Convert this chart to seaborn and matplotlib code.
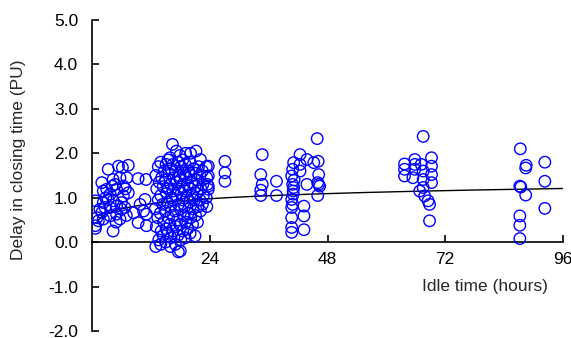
import numpy as np
import pandas as pd
import matplotlib
matplotlib.use("Agg")
import matplotlib.pyplot as plt
import seaborn as sns

# ---- data ----
# cluster A: 0-12 h
hours_a = [0.75, 0.7, 0.7, 2.0, 2.3, 3.3, 4.3, 5.4, 7.4, 5.7, 7.1, 9.4, 11.0, 3.0, 3.7,
           5.0, 6.4, 7.4, 6.0, 4.3, 2.65, 2.0, 2.3, 3.7, 5.0, 6.0, 4.3, 5.7, 6.7, 10.8,
           11.1, 11.1, 9.4, 3.3, 2.3, 4.7, 4.1, 6.4, 5.0, 3.7, 1.3, 1.6, 6.2, 10.5, 8.5,
           1.0, 2.8, 6.8, 9.8, 4.9, 7.0]
delay_a = [0.93, 0.37, 0.31, 1.34, 1.15, 1.64, 1.41, 1.71, 1.73, 1.45, 1.45, 1.43, 1.41, 1.19, 1.08,
           1.19, 1.04, 1.11, 0.89, 0.93, 0.78, 0.67, 0.52, 0.59, 0.63, 0.74, 0.25, 0.52, 0.78, 0.96,
           0.63, 0.37, 0.44, 0.96, 0.89, 1.30, 1.26, 1.26, 0.81, 0.78, 0.48, 0.74, 1.68, 0.70, 0.66,
           0.55, 1.00, 1.20, 0.85, 0.45, 0.60]

# cluster B: 13-24 h (dense)
hours_b = [13.0, 13.1, 12.9, 13.2, 13.0,
           13.6, 13.4, 13.5, 13.7, 13.5,
           14.0, 14.1, 13.9, 14.0, 14.2, 14.0,
           14.5, 14.6, 14.4, 14.5, 14.7,
           15.0, 15.1, 14.9, 15.2, 15.0, 15.1,
           15.5, 15.6, 15.4, 15.5, 15.7, 15.5,
           16.0, 16.1, 15.9, 16.0, 16.2, 16.0, 16.1, 15.9,
           16.5, 16.6, 16.4, 16.5, 16.7, 16.5, 16.4,
           17.0, 17.1, 16.9, 17.0, 17.2, 17.0, 17.2,
           17.6, 17.5, 17.4, 17.6, 17.5, 17.7, 17.5,
           18.0, 18.1, 17.9, 18.0, 18.2, 18.0, 18.1, 17.9,
           18.5, 18.6, 18.4, 18.5, 18.7, 18.5,
           19.0, 19.1, 18.9, 19.0, 19.2, 19.0, 19.1,
           19.5, 19.6, 19.4, 19.5, 19.7,
           20.0, 20.1, 19.9, 20.0, 20.2, 20.0, 20.1,
           20.5, 20.6, 20.4, 20.5, 20.7,
           21.0, 21.1, 20.9, 21.0, 21.2, 21.2,
           21.5, 21.6, 21.4, 21.5, 21.7,
           22.1, 22.0, 22.2, 22.0, 22.1,
           22.5, 22.7, 22.6, 22.5,
           23.4, 23.3, 23.5, 23.4, 23.3,
           23.7, 23.7, 23.7, 23.7]
delay_b = [-0.10, 0.35, 0.75, 1.20, 1.50,
           0.05, 0.55, 0.95, 1.35, 1.70,
           -0.05, 0.25, 0.65, 1.05, 1.45, 1.80,
           0.15, 0.45, 0.85, 1.25, 1.60,
           0.00, 0.30, 0.70, 1.10, 1.40, 1.75,
           0.20, 0.55, 0.90, 1.20, 1.55, 1.85,
           -0.10, 0.10, 0.40, 0.80, 1.00, 1.30, 1.65, 1.90,
           0.25, 0.60, 0.95, 1.15, 1.45, 1.75, 2.20,
           -0.05, 0.35, 0.70, 1.05, 1.35, 1.60, 2.05,
           -0.22, 0.15, 0.50, 0.85, 1.20, 1.50, 1.80,
           -0.20, 0.05, 0.40, 0.75, 1.10, 1.40, 1.70, 1.95,
           0.25, 0.60, 0.95, 1.25, 1.55, 1.85,
           0.10, 0.45, 0.80, 1.15, 1.45, 1.75, 2.00,
           0.30, 0.65, 1.00, 1.30, 1.60,
           0.20, 0.55, 0.90, 1.20, 1.50, 1.80, 2.00,
           0.40, 0.75, 1.05, 1.35, 1.65,
           0.14, 0.60, 0.95, 1.25, 1.55, 2.05,
           0.45, 0.80, 1.10, 1.40, 1.70,
           0.70, 0.95, 1.20, 1.50, 1.86,
           0.85, 1.05, 1.30, 1.60,
           0.80, 1.00, 1.30, 1.45, 1.70,
           1.71, 1.49, 1.26, 1.19]

# cluster C: 25-46 h
hours_c = [27.1, 27.1, 27.1,
           34.7, 34.4, 34.7, 34.4, 34.4, 37.6, 37.6,
           41.1, 40.9, 40.7, 40.9, 41.1, 41.0, 40.7, 40.9, 40.7, 40.7, 40.7, 40.7,
           42.4, 42.4, 42.4, 43.8, 43.8, 43.2, 43.2, 43.2,
           45.2, 45.9, 46.1, 46.2, 46.2, 46.0, 46.0, 46.4, 41.0, 41.2]
delay_c = [1.82, 1.56, 1.37,
           1.97, 1.52, 1.30, 1.17, 1.05, 1.37, 1.05,
           1.79, 1.64, 1.49, 1.30, 1.23, 1.08, 0.96, 0.85, 0.78, 0.55, 0.33, 0.22,
           1.97, 1.75, 1.60, 1.86, 1.30, 0.81, 0.59, 0.28,
           1.79, 2.33, 1.82, 1.52, 1.30, 1.34, 1.05, 1.26, 1.15, 1.40]

# cluster D: 63-70 h
hours_d = [67.5, 63.7, 63.7, 63.7, 65.8, 65.8, 65.8, 65.4, 67.1, 67.5, 67.5,
           69.2, 69.2, 69.2, 69.2, 67.5, 66.8, 67.8, 68.5, 68.8, 68.8]
delay_d = [2.38, 1.76, 1.64, 1.49, 1.86, 1.75, 1.64, 1.45, 1.75, 1.60, 1.41,
           1.90, 1.71, 1.52, 1.34, 1.23, 1.15, 1.04, 0.93, 0.85, 0.48]

# cluster E: 86-93 h
hours_e = [87.3, 88.5, 88.4, 92.3, 92.3, 87.2, 87.4, 88.4, 92.3, 87.2, 87.2, 87.2]
delay_e = [2.10, 1.73, 1.67, 1.80, 1.37, 1.26, 1.24, 1.06, 0.76, 0.59, 0.38, 0.08]

# fitted trend: delay = a + b * ln(hours)
trend_a = 0.45
trend_b = 0.166
trend_start, trend_end = 1.0, 96.0

x_ticks = [24, 48, 72, 96]
y_ticks = [-2.0, -1.0, 0.0, 1.0, 2.0, 3.0, 4.0, 5.0]

df = pd.DataFrame({
    "hours": hours_a + hours_b + hours_c + hours_d + hours_e,
    "delay": delay_a + delay_b + delay_c + delay_d + delay_e,
})
tx = np.linspace(trend_start, trend_end, 300)
trend = pd.DataFrame({"hours": tx, "delay": trend_a + trend_b * np.log(tx)})

# ---- plot ----
sns.set_style("ticks")
plt.rcParams["font.family"] = ["Liberation Sans Narrow", "Liberation Sans", "DejaVu Sans"]

fig = plt.figure(figsize=(5.71, 3.38), dpi=100)
ax = fig.add_axes([92 / 571, 1 - 331 / 338, 471 / 571, 311 / 338])

sns.lineplot(data=trend, x="hours", y="delay", color="black", lw=1.0, ax=ax, zorder=2)
sns.scatterplot(data=df, x="hours", y="delay", s=68, facecolors="none",
                edgecolor="#0000ff", linewidth=1.0, ax=ax, zorder=3)

ax.set_xlim(0, 96)
ax.set_ylim(-2.0, 5.0)
ax.set_xticks(x_ticks)
ax.set_yticks(y_ticks)
ax.set_yticklabels([f"{v:.1f}" for v in y_ticks])
ax.set_xticklabels([str(v) for v in x_ticks])

for side in ("top", "right"):
    ax.spines[side].set_visible(False)
ax.spines["bottom"].set_position(("data", 0))
ax.spines["left"].set_linewidth(1.2)
ax.spines["bottom"].set_linewidth(1.2)
ax.spines["left"].set_color("black")
ax.spines["bottom"].set_color("black")

ax.tick_params(axis="both", direction="in", length=5, width=1.2, colors="black",
               labelsize=12.5)
ax.tick_params(axis="y", pad=10)
ax.tick_params(axis="x", pad=7)

ax.set_xlabel("Idle time (hours)", fontsize=12.5, va="center")
ax.xaxis.set_label_coords(0.834, 0.1415)
ax.set_ylabel("Delay in closing time (PU)", fontsize=12.5, va="center")
ax.yaxis.set_label_coords(-0.155, 0.55)
ax.grid(False)

fig.savefig("out.png", dpi=100)
